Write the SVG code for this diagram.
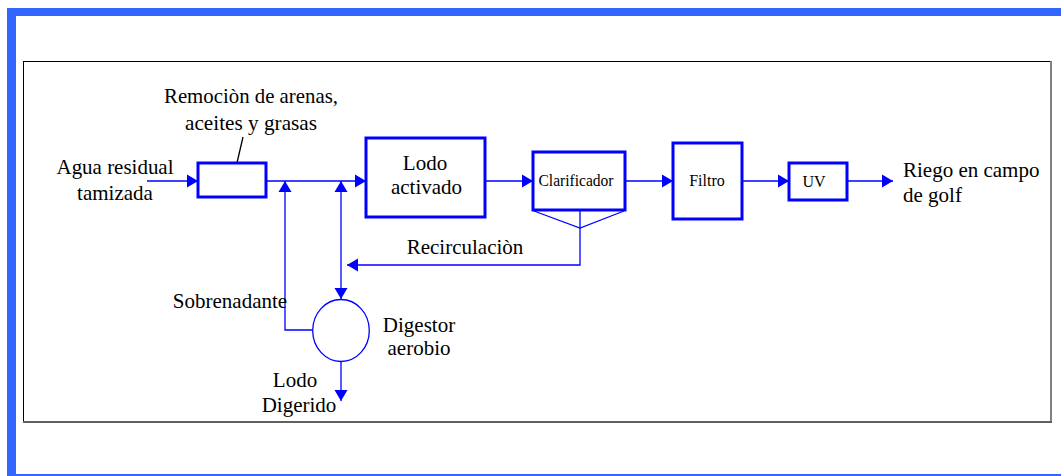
<svg xmlns="http://www.w3.org/2000/svg" width="1061" height="476" viewBox="0 0 1061 476">
<style>
.t{font-family:"Liberation Serif","Times New Roman",serif;font-size:21px;fill:#000}
.s{font-family:"Liberation Serif","Times New Roman",serif;font-size:16px;fill:#000}
.box{fill:#fff;stroke:#0000ff;stroke-width:3}
.c{fill:none;stroke:#0000ff;stroke-width:1.3}
.frame{fill:#3366ff}
</style>
<defs>
<marker id="ah" markerUnits="userSpaceOnUse" markerWidth="12" markerHeight="14" refX="11" refY="7" orient="auto-start-reverse">
<path d="M0,0.5 L11,7 L0,13.5 z" fill="#0000ff"/>
</marker>
</defs>
<rect width="1061" height="476" fill="#fff"/>
<g id="frame">
<rect class="frame" x="7" y="8" width="1054" height="8"/>
<rect class="frame" x="7" y="8" width="9" height="468"/>
<rect class="frame" x="7" y="474" width="1054" height="2"/>
<rect x="23.5" y="61.5" width="1027" height="360" fill="#fff" stroke="#000" stroke-width="1"/>
<line x1="1051" y1="61" x2="1051" y2="423" stroke="#808080" stroke-width="2"/>
<line x1="23" y1="422" x2="1052" y2="422" stroke="#606060" stroke-width="2"/>
</g>
<g id="connectors">
<line class="c" x1="147" y1="181" x2="198" y2="181" marker-end="url(#ah)"/>
<line class="c" x1="266" y1="181" x2="366" y2="181" marker-end="url(#ah)"/>
<line class="c" x1="485" y1="181" x2="533" y2="181" marker-end="url(#ah)"/>
<line class="c" x1="625" y1="181" x2="673" y2="181" marker-end="url(#ah)"/>
<line class="c" x1="742" y1="181" x2="789" y2="181" marker-end="url(#ah)"/>
<line class="c" x1="847" y1="181" x2="893" y2="181" marker-end="url(#ah)"/>
<polyline class="c" points="313,330 285,330 285,181" marker-end="url(#ah)"/>
<polyline class="c" points="580,210 580,265 347,265" marker-end="url(#ah)"/>
<line class="c" x1="341" y1="181" x2="341" y2="299" marker-start="url(#ah)" marker-end="url(#ah)"/>
<polyline class="c" points="534,211 580,228 624,211"/>
<line class="c" x1="341" y1="361" x2="341" y2="401" marker-end="url(#ah)"/>
<line x1="233" y1="180" x2="243" y2="137" stroke="#000" stroke-width="1.3"/>
</g>
<g id="entrada">
<text class="t" x="115" y="174" text-anchor="middle" textLength="117" lengthAdjust="spacingAndGlyphs">Agua residual</text>
<text class="t" x="115" y="200" text-anchor="middle">tamizada</text>
</g>
<g id="remocion">
<rect class="box" x="198" y="163" width="68" height="34"/>
<text class="t" x="251" y="103" text-anchor="middle" textLength="174" lengthAdjust="spacingAndGlyphs">Remociòn de arenas,</text>
<text class="t" x="251" y="130" text-anchor="middle" textLength="132" lengthAdjust="spacingAndGlyphs">aceites y grasas</text>
</g>
<g id="lodo-activado">
<rect class="box" x="366" y="138" width="119" height="79"/>
<text class="t" x="425" y="170" text-anchor="middle">Lodo</text>
<text class="t" x="426.5" y="194" text-anchor="middle">activado</text>
</g>
<g id="clarificador">
<rect class="box" x="533" y="152" width="92" height="58"/>
<text class="s" x="576" y="186" text-anchor="middle" textLength="75" lengthAdjust="spacingAndGlyphs">Clarificador</text>
</g>
<g id="filtro">
<rect class="box" x="673" y="143" width="69" height="76"/>
<text class="s" x="707" y="186" text-anchor="middle">Filtro</text>
</g>
<g id="uv">
<rect class="box" x="789" y="163" width="58" height="37"/>
<text class="s" x="814" y="187" text-anchor="middle">UV</text>
</g>
<g id="salida">
<text class="t" x="903" y="177">Riego en campo</text>
<text class="t" x="903" y="202">de golf</text>
</g>
<g id="recirculacion">
<text class="t" x="465" y="254" text-anchor="middle">Recirculaciòn</text>
</g>
<g id="sobrenadante">
<text class="t" x="230" y="308" text-anchor="middle">Sobrenadante</text>
</g>
<g id="digestor">
<ellipse cx="341" cy="330.5" rx="28.3" ry="31" fill="#fff" stroke="#0000ff" stroke-width="1.3"/>
<text class="t" x="419" y="332" text-anchor="middle">Digestor</text>
<text class="t" x="419" y="355" text-anchor="middle">aerobio</text>
</g>
<g id="lodo-digerido">
<text class="t" x="295" y="387" text-anchor="middle">Lodo</text>
<text class="t" x="299" y="412" text-anchor="middle">Digerido</text>
</g>
</svg>
